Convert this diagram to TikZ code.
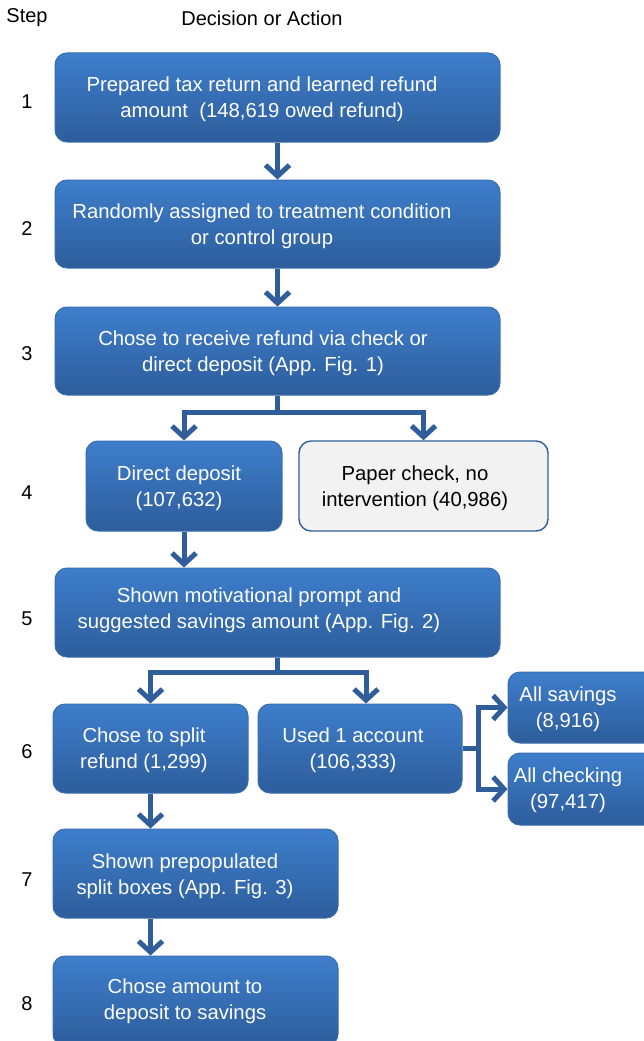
\documentclass[tikz,border=0pt]{standalone}
\usepackage{fontspec}
\setmainfont{Liberation Sans}
\usetikzlibrary{arrows.meta,calc}
\definecolor{topblue}{HTML}{3E7ECC}
\definecolor{botblue}{HTML}{2D5D9B}
\definecolor{edgeblue}{HTML}{3A6DAE}
\definecolor{arrblue}{HTML}{2F5E9B}
\definecolor{paper}{HTML}{F2F2F2}
\tikzset{
  box/.style={rounded corners=12pt, line width=1pt, inner sep=0pt},
  bluebox/.style={box, draw=edgeblue, top color=topblue, bottom color=botblue},
  graybox/.style={box, draw=arrblue, line width=1.4pt, fill=paper},
  wtxt/.style={text=white, align=center, font=\fontsize{20.3}{26}\selectfont},
  btxt/.style={text=black, align=center, font=\fontsize{20.3}{26}\selectfont},
  hdr/.style={text=black, font=\fontsize{20}{24}\selectfont},
  arr/.style={draw=arrblue, line width=5pt, -{Straight Barb[length=11pt,width=24pt]}},
}
\begin{document}
\begin{tikzpicture}[x=1pt,y=-1pt]
\useasboundingbox (0,0) rectangle (644,1041);
\clip (0,0) rectangle (644,1041);
% headers
\node[hdr] (hstep) at (27,18) {Step};
\node[hdr] (hdec) at (262,18) {Decision or Action};
\foreach \n/\y in {1/102,2/229,3/354,4/493,5/619,6/752,7/880,8/1004}
  \node[hdr] (s\n) at (27,\y) {\n};
% boxes
\node[bluebox, minimum width=445pt, minimum height=89pt] (b1) at (277.5,97.5) {};
\node[wtxt] (t1) at (262,99) {Prepared tax return and learned refund\\amount\ \ (148,619 owed refund)};
\node[bluebox, minimum width=445pt, minimum height=88pt] (b2) at (277.5,224) {};
\node[wtxt] (t2) at (262,226) {Randomly assigned to treatment condition\\or control group};
\node[bluebox, minimum width=445pt, minimum height=88pt] (b3) at (277.5,351) {};
\node[wtxt] (t3) at (263,353) {Chose to receive refund via check or\\direct deposit (App. Fig. 1)};
\node[bluebox, minimum width=196pt, minimum height=90pt] (b4a) at (184,486) {};
\node[wtxt] (t4a) at (179,488) {Direct deposit\\(107,632)};
\node[graybox, minimum width=249pt, minimum height=90pt] (b4b) at (423.5,486) {};
\node[btxt] (t4b) at (415,488) {Paper check, no\\intervention (40,986)};
\node[bluebox, minimum width=445pt, minimum height=89pt] (b5) at (277.5,612.5) {};
\node[wtxt] (t5) at (259,610) {Shown motivational prompt and\\suggested savings amount (App. Fig. 2)};
\node[bluebox, minimum width=195pt, minimum height=89pt] (b6a) at (150.5,748.5) {};
\node[wtxt] (t6a) at (144,750) {Chose to split\\refund (1,299)};
\node[bluebox, minimum width=204pt, minimum height=89pt] (b6b) at (360,748.5) {};
\node[wtxt] (t6b) at (353,750) {Used 1 account\\(106,333)};
\node[bluebox, minimum width=148pt, minimum height=71pt] (b6c) at (582,707.5) {};
\node[wtxt] (t6c) at (568,709) {All savings\\(8,916)};
\node[bluebox, minimum width=148pt, minimum height=72pt] (b6d) at (582,789) {};
\node[wtxt] (t6d) at (568,790) {All checking\\(97,417)};
\node[bluebox, minimum width=285pt, minimum height=89pt] (b7) at (195.5,873.5) {};
\node[wtxt] (t7) at (185,876) {Shown prepopulated\\split boxes (App. Fig. 3)};
\node[bluebox, minimum width=285pt, minimum height=90pt] (b8) at (195.5,1001) {};
\node[wtxt] (t8) at (185,1001) {Chose amount to\\deposit to savings};
% connectors
\draw[arr] (b1.south) -- (b2.north);
\draw[arr] (b2.south) -- (b3.north);
\draw[arr] (b3.south) -- ++(0,17) -| (b4a.north);
\draw[arr] (b3.south) -- ++(0,17) -| (b4b.north);
\draw[arr] (b4a.south) -- (b4a.south |- b5.north);
\coordinate (r6) at ([xshift=6pt]b6b.north);
\draw[arr] (b5.south) -- ++(0,15) -| (b6a.north);
\draw[arr] (b5.south) -- ++(0,15) -| (r6);
\draw[arr] (b6b.east) -- ++(16,0) |- (b6c.west);
\draw[arr] (b6b.east) -- ++(16,0) |- (b6d.west);
\draw[arr] (b6a.south) -- (b6a.south |- b7.north);
\draw[arr] (b7.south -| b6a.south) -- (b8.north -| b6a.south);
\end{tikzpicture}
\end{document}
